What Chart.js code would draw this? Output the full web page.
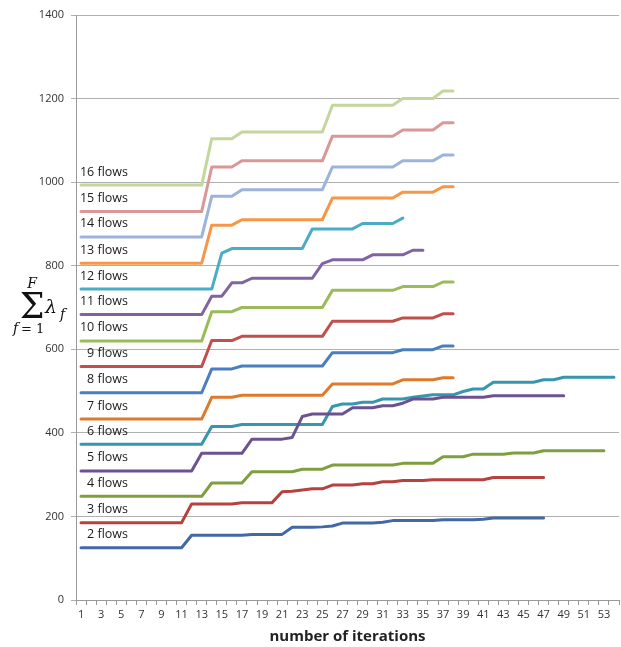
<!DOCTYPE html>
<html><head><meta charset="utf-8">
<script src="https://cdn.jsdelivr.net/npm/chart.js@4"></script>
<style>html,body{margin:0;padding:0;background:#fff}</style>
</head><body>
<canvas id="c" width="621" height="647"></canvas>
<script>
const categories = [1,2,3,4,5,6,7,8,9,10,11,12,13,14,15,16,17,18,19,20,21,22,23,24,25,26,27,28,29,30,31,32,33,34,35,36,37,38,39,40,41,42,43,44,45,46,47,48,49,50,51,52,53,54];
const yTicks = [0,200,400,600,800,1000,1200,1400];

const flows2 = [125,125,125,125,125,125,125,125,125,125,125,155,155,155,155,155,155,157,157,157,157,174,174,174,175,177,184,184,184,184,186,190,190,190,190,190,192,192,192,192,193,196,196,196,196,196,196];
const flows3 = [185,185,185,185,185,185,185,185,185,185,185,230,230,230,230,230,233,233,233,233,259,260,263,266,266,275,275,275,278,278,283,283,286,286,286,288,288,288,288,288,288,293,293,293,293,293,293];
const flows4 = [248,248,248,248,248,248,248,248,248,248,248,248,248,280,280,280,280,307,307,307,307,307,313,313,313,323,323,323,323,323,323,323,327,327,327,327,343,343,343,349,349,349,349,352,352,352,357,357,357,357,357,357,357];
const flows5 = [309,309,309,309,309,309,309,309,309,309,309,309,351,351,351,351,351,385,385,385,385,389,439,445,445,445,445,460,460,460,465,465,471,481,481,481,485,485,485,485,485,489,489,489,489,489,489,489,489];
const flows6 = [373,373,373,373,373,373,373,373,373,373,373,373,373,415,415,415,420,420,420,420,420,420,420,420,420,463,469,469,473,473,481,481,481,485,488,491,491,491,499,505,505,521,521,521,521,521,527,527,533,533,533,533,533,533];
const flows7 = [433,433,433,433,433,433,433,433,433,433,433,433,433,485,485,485,490,490,490,490,490,490,490,490,490,517,517,517,517,517,517,517,527,527,527,527,532,532];
const flows8 = [496,496,496,496,496,496,496,496,496,496,496,496,496,553,553,553,560,560,560,560,560,560,560,560,560,592,592,592,592,592,592,592,599,599,599,599,608,608];
const flows9 = [559,559,559,559,559,559,559,559,559,559,559,559,559,621,621,621,631,631,631,631,631,631,631,631,631,667,667,667,667,667,667,667,675,675,675,675,685,685];
const flows10 = [620,620,620,620,620,620,620,620,620,620,620,620,620,690,690,690,700,700,700,700,700,700,700,700,700,741,741,741,741,741,741,741,750,750,750,750,761,761];
const flows11 = [683,683,683,683,683,683,683,683,683,683,683,683,683,727,727,759,759,770,770,770,770,770,770,770,805,814,814,814,814,826,826,826,826,837,837];
const flows12 = [744,744,744,744,744,744,744,744,744,744,744,744,744,744,830,841,841,841,841,841,841,841,841,888,888,888,888,888,901,901,901,901,914];
const flows13 = [806,806,806,806,806,806,806,806,806,806,806,806,806,897,897,897,910,910,910,910,910,910,910,910,910,962,962,962,962,962,962,962,976,976,976,976,989,989];
const flows14 = [869,869,869,869,869,869,869,869,869,869,869,869,869,966,966,966,982,982,982,982,982,982,982,982,982,1036,1036,1036,1036,1036,1036,1036,1051,1051,1051,1051,1065,1065];
const flows15 = [930,930,930,930,930,930,930,930,930,930,930,930,930,1036,1036,1036,1051,1051,1051,1051,1051,1051,1051,1051,1051,1110,1110,1110,1110,1110,1110,1110,1125,1125,1125,1125,1142,1142];
const flows16 = [993,993,993,993,993,993,993,993,993,993,993,993,993,1104,1104,1104,1120,1120,1120,1120,1120,1120,1120,1120,1120,1184,1184,1184,1184,1184,1184,1184,1200,1200,1200,1200,1218,1218];

const seriesNames = ['2 flows','3 flows','4 flows','5 flows','6 flows','7 flows','8 flows','9 flows','10 flows','11 flows','12 flows','13 flows','14 flows','15 flows','16 flows'];
const seriesData = [flows2,flows3,flows4,flows5,flows6,flows7,flows8,flows9,flows10,flows11,flows12,flows13,flows14,flows15,flows16];
const seriesColors = ['#4268A6','#B5423F','#7F9E3E','#6C5290','#3596AE','#DE7A2C','#4A7EBF','#C24F4C','#9BBB59','#8064A2','#4BACC6','#F79646','#9CB4DA','#D99896','#C3D69B'];

const flowLabels = {
  id: 'flowLabels',
  afterDatasetsDraw(chart) {
    const ctx = chart.ctx, ys = chart.scales.y;
    ctx.save();
    ctx.font = '12.5px "Open Sans"';
    ctx.fillStyle = '#1a1a1a';
    ctx.textAlign = 'right';
    ctx.textBaseline = 'middle';
    seriesNames.forEach((n, i) => {
      ctx.fillText(n, 128, ys.getPixelForValue(seriesData[i][0]) - 13);
    });
    ctx.restore();
  }
};

const yFormula = {
  id: 'yFormula',
  afterDraw(chart) {
    const ctx = chart.ctx;
    ctx.save();
    ctx.fillStyle = '#111';
    ctx.textBaseline = 'alphabetic';
    ctx.textAlign = 'center';
    ctx.font = '35px "DejaVu Serif"';
    ctx.fillText('\u03a3', 32, 318);
    ctx.font = 'italic 14px "DejaVu Serif"';
    ctx.fillText('F', 32, 288);
    ctx.textAlign = 'left';
    ctx.font = 'italic 14px "DejaVu Serif"';
    ctx.fillText('f', 13, 333);
    ctx.font = '13px "DejaVu Serif"';
    ctx.fillText('= 1', 21, 333);
    ctx.font = 'italic 19px "DejaVu Serif"';
    ctx.fillText('\u03bb', 45, 313);
    ctx.font = 'italic 14px "DejaVu Serif"';
    ctx.fillText('f', 60, 319);
    ctx.restore();
  }
};

new Chart(document.getElementById('c'), {
  type: 'line',
  data: {
    labels: categories,
    datasets: seriesData.map((d, i) => ({
      label: seriesNames[i],
      data: d,
      borderColor: seriesColors[i],
      backgroundColor: seriesColors[i],
      borderWidth: 3,
      pointRadius: 0,
      tension: 0,
      fill: false,
      borderCapStyle: 'round',
      borderJoinStyle: 'round'
    }))
  },
  options: {
    responsive: false,
    animation: false,
    layout: { padding: { top: 15, right: 2, left: 0, bottom: 0 } },
    plugins: { legend: { display: false }, tooltip: { enabled: false } },
    scales: {
      x: {
        type: 'category',
        offset: true,
        grid: { display: true, drawOnChartArea: false, drawTicks: true, tickLength: 5, offset: true, color: '#999' },
        border: { display: true, color: '#999' },
        ticks: {
          autoSkip: false, maxRotation: 0, minRotation: 0, padding: 3,
          font: { family: 'Open Sans', size: 11 }, color: '#333',
          callback: (v, i) => (i % 2 === 0 ? String(categories[i]) : '')
        },
        title: { display: true, text: 'number of iterations', font: { family: 'Open Sans', size: 15, weight: 'bold' }, color: '#222', padding: { top: 0, bottom: 1 } },
        afterFit: s => { s.height = 47; }
      },
      y: {
        min: 0, max: 1400,
        afterBuildTicks: s => { s.ticks = yTicks.map(v => ({ value: v })); },
        ticks: { padding: 7, font: { family: 'Open Sans', size: 11 }, color: '#333', callback: v => String(v) },
        grid: { color: '#b0b0b0', tickLength: 5 },
        border: { color: '#999' },
        afterFit: s => { s.width = 76; }
      }
    }
  },
  plugins: [flowLabels, yFormula]
});
</script>
</body></html>
